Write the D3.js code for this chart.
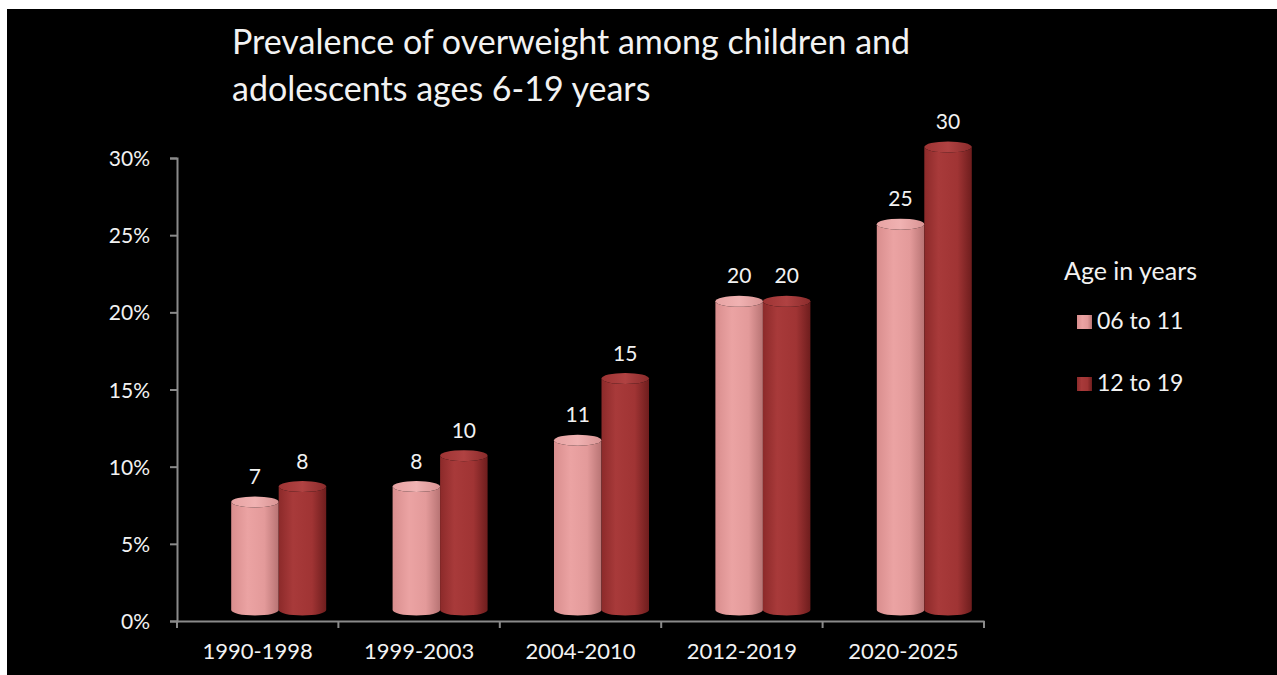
<!DOCTYPE html>
<html>
<head>
<meta charset="utf-8">
<script src="https://cdn.jsdelivr.net/npm/d3@7"></script>
<style>
  body { margin: 0; background: #fff; }
  text { font-family: Lato, "Open Sans", sans-serif; fill: #f2f2f2; }
</style>
</head>
<body>
<div id="container"></div>
<script>
// data
let periods = ["1990-1998", "1999-2003", "2004-2010", "2012-2019", "2020-2025"];
let series = ["06 to 11", "12 to 19"];
let young = [7, 8, 11, 20, 25];
let teens = [8, 10, 15, 20, 30];
let yTicks = [0, 5, 10, 15, 20, 25, 30];

let w = 1277;
let h = 675;

let viz = d3.select("#container")
  .append("svg")
    .attr("width", w)
    .attr("height", h)
;

// black slide area
viz.append("rect")
  .attr("x", 7)
  .attr("y", 9)
  .attr("width", w - 7)
  .attr("height", h - 9)
  .attr("fill", "#000");

// gradients for the cylinders
let defs = viz.append("defs");
function makeGrad(id, stops){
  let g = defs.append("linearGradient").attr("id", id)
    .attr("x1", "0%").attr("x2", "100%").attr("y1", "0%").attr("y2", "0%");
  stops.forEach(function(s){
    g.append("stop").attr("offset", s[0]).attr("stop-color", s[1]);
  });
}
makeGrad("pinkSide", [["0%", "#d98e8e"], ["35%", "#eba3a3"], ["70%", "#e39a9a"], ["100%", "#b87474"]]);
makeGrad("pinkTop", [["0%", "#e7a3a3"], ["50%", "#f0b2b2"], ["100%", "#d99494"]]);
makeGrad("redSide", [["0%", "#8c2a2a"], ["30%", "#a83a3a"], ["70%", "#a03434"], ["100%", "#6e1d1d"]]);
makeGrad("redTop", [["0%", "#9e3434"], ["50%", "#b04242"], ["100%", "#8a2b2b"]]);

let sideFill = {"06 to 11": "url(#pinkSide)", "12 to 19": "url(#redSide)"};
let topFill = {"06 to 11": "url(#pinkTop)", "12 to 19": "url(#redTop)"};

let xScale = d3.scaleBand().domain(periods).range([177, 984]);
let yScale = d3.scaleLinear().domain([0, 30]).range([621, 158]);

// y axis
let yAxisGroup = viz.append("g")
  .attr("transform", "translate(177, 0)")
  .call(d3.axisLeft(yScale).tickValues(yTicks).tickFormat(function(d){ return d + "%"; }).tickSize(7).tickPadding(20));
yAxisGroup.selectAll("path, line").attr("stroke", "#8a8a8a").attr("stroke-width", 2);
yAxisGroup.selectAll("text")
  .attr("font-size", "21px")
  .attr("font-family", "Lato, sans-serif")
  .attr("fill", "#f2f2f2")
  .attr("dy", "0.36em");

// x axis: labels from band scale, ticks on category boundaries
let xAxisGroup = viz.append("g")
  .attr("transform", "translate(0, 621)")
  .call(d3.axisBottom(xScale).tickSize(0).tickPadding(22));
xAxisGroup.select(".domain").attr("stroke", "#8a8a8a").attr("stroke-width", 2);
xAxisGroup.selectAll("text")
  .attr("font-size", "22px")
  .attr("font-family", "Lato, sans-serif")
  .attr("fill", "#f2f2f2");
let bounds = periods.map(function(p){ return xScale(p); }).concat([xScale.range()[1]]);
xAxisGroup.selectAll(".bound").data(bounds).enter().append("line")
  .attr("x1", function(d){ return d; })
  .attr("x2", function(d){ return d; })
  .attr("y1", 0)
  .attr("y2", 7)
  .attr("stroke", "#8a8a8a")
  .attr("stroke-width", 2);

// bars as cylinders
let groupWidth = 95;
let depthX = 21;
let depthY = -11;
let sub = d3.scaleBand().domain(series).range([0, groupWidth]);
let rx = sub.bandwidth() / 2;
let ry = 5.5;

let rows = [];
periods.forEach(function(p, i){
  rows.push({period: p, s: series[0], v: young[i]});
  rows.push({period: p, s: series[1], v: teens[i]});
});

function barLeft(d){
  return xScale(d.period) + (xScale.bandwidth() - groupWidth) / 2 + depthX + sub(d.s);
}

function cylPath(d){
  let x0 = barLeft(d);
  let x1 = x0 + sub.bandwidth();
  let yTop = yScale(d.v) + depthY;
  let yBot = yScale(0) + depthY;
  return "M" + x0 + "," + yTop +
    " L" + x0 + "," + yBot +
    " A" + rx + "," + ry + " 0 0 0 " + x1 + "," + yBot +
    " L" + x1 + "," + yTop +
    " A" + rx + "," + ry + " 0 0 1 " + x0 + "," + yTop + " Z";
}

let bars = viz.append("g").selectAll(".bar").data(rows).enter().append("g").attr("class", "bar");

bars.append("path")
  .attr("d", cylPath)
  .attr("fill", function(d){ return sideFill[d.s]; });

bars.append("ellipse")
  .attr("cx", function(d){ return barLeft(d) + rx; })
  .attr("cy", function(d){ return yScale(d.v) + depthY; })
  .attr("rx", rx)
  .attr("ry", ry)
  .attr("fill", function(d){ return topFill[d.s]; });

bars.append("text")
  .text(function(d){ return d.v; })
  .attr("x", function(d){ return barLeft(d) + rx; })
  .attr("y", function(d){ return yScale(d.v) + depthY - 18; })
  .attr("text-anchor", "middle")
  .attr("font-size", "21px");

// title
let title = viz.append("text")
  .attr("x", 232)
  .attr("y", 54)
  .attr("font-size", "34px");
title.append("tspan").attr("x", 232).text("Prevalence of overweight among children and");
title.append("tspan").attr("x", 232).attr("y", 101).text("adolescents ages 6-19 years");

// legend
let legend = viz.append("g");
legend.append("text")
  .text("Age in years")
  .attr("x", 1064)
  .attr("y", 280)
  .attr("font-size", "25px");

let legendItems = legend.selectAll(".item").data(series).enter().append("g").attr("class", "item")
  .attr("transform", function(d, i){ return "translate(1077, " + (315 + i * 62) + ")"; });
legendItems.append("rect")
  .attr("width", 15)
  .attr("height", 14)
  .attr("fill", function(d){ return sideFill[d]; });
legendItems.append("text")
  .text(function(d){ return d; })
  .attr("x", 20)
  .attr("y", 14)
  .attr("font-size", "23px");
</script>
</body>
</html>
